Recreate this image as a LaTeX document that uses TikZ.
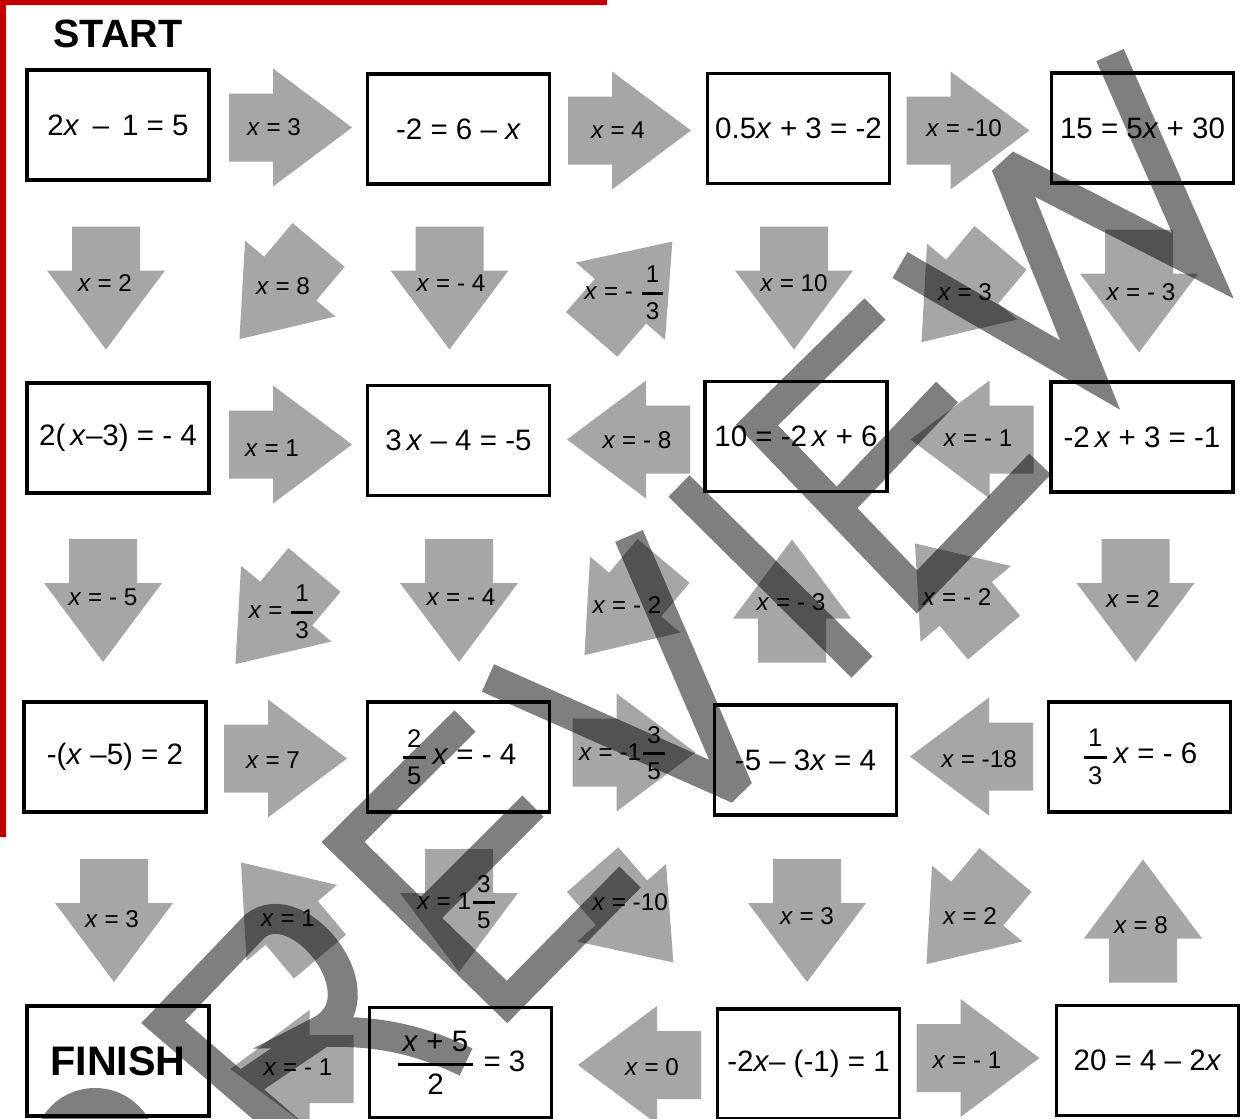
\documentclass[tikz,border=0pt]{standalone}
\usepackage{amsmath}
\usepackage{fontspec}
\setmainfont{Liberation Sans}
\definecolor{arrowgray}{RGB}{166,166,166}
\definecolor{edgered}{RGB}{192,0,0}
\newcommand{\xx}{\textit{x}}
\newcommand{\barfrac}[2]{$\genfrac{}{}{1.5pt}{0}{\text{\,#1\,}}{\text{\,#2\,}}$}
\tikzset{
  eqbox/.style  ={rectangle, draw=black, line width=2.2pt, fill=white,
                  minimum width=3.64cm, minimum height=2.2cm, inner sep=0pt,
                  font=\fontsize{16.8}{19}\selectfont},
  lbl/.style    ={inner sep=0pt, font=\fontsize{13.8}{16}\selectfont},
  headtxt/.style={inner sep=0pt, font=\fontsize{22.5}{26}\selectfont\bfseries},
  wm/.style     ={line width=0.6cm, draw=black},
  pics/garrow/.style={code={
    \fill[arrowgray] (-61.5,-34) -- (-17.5,-34) -- (-17.5,-59) -- (61.5,0)
      -- (-17.5,59) -- (-17.5,34) -- (-61.5,34) -- cycle;
  }},
}
\begin{document}
\begin{tikzpicture}[x=0.02cm, y=-0.02cm]
\useasboundingbox (0,0) rectangle (1248,1119);
\fill[white] (0,0) rectangle (1248,1119);
\fill[edgered] (0,0) rectangle (607,5);
\fill[edgered] (0,0) rectangle (6,837);

\node[headtxt] (start) at (118,34) {START};

% equation boxes
\node[eqbox] (eq11) at (118,125) {2\xx{} \,--\, 1 = 5};
\node[eqbox] (eq12) at (458.5,129) {-2 = 6 -- \xx};
\node[eqbox] (eq13) at (798.5,128.5) {0.5\xx{} + 3 = -2};
\node[eqbox] (eq14) at (1142.5,128) {15 = 5\xx{} + 30};
\node[eqbox] (eq21) at (118,438) {2(\,\xx--3) = - 4};
\node[eqbox] (eq22) at (458.5,440.5) {3\,\xx{} -- 4 = -5};
\node[eqbox] (eq23) at (796,436.5) {10 = -2\,\xx{} + 6};
\node[eqbox] (eq24) at (1142,437) {-2\,\xx{} + 3 = -1};
\node[eqbox] (eq31) at (115,757) {-(\xx{} --5) = 2};
\node[eqbox] (eq32) at (458.5,757) {{\fontsize{14.5}{16}\selectfont\barfrac{2}{5}}\,\xx{} = - 4};
\node[eqbox] (eq33) at (805.5,760) {-5 -- 3\xx{} = 4};
\node[eqbox] (eq34) at (1139.5,757) {{\fontsize{14.5}{16}\selectfont\barfrac{1}{3}}\,\xx{} = - 6};
\node[eqbox, font=\fontsize{23.5}{27}\selectfont\bfseries] (eq41) at (118,1061) {FINISH};
\node[eqbox] (eq42) at (460.5,1062.5) {\barfrac{\xx{} + 5}{2} = 3};
\node[eqbox] (eq43) at (808.5,1064) {-2\xx-- (-1) = 1};
\node[eqbox] (eq44) at (1147.5,1060.5) {20 = 4 -- 2\xx};

% gray arrows
\pic[rotate=0] at (290.5,127.5) {garrow};
\pic[rotate=0] at (629.5,130.5) {garrow};
\pic[rotate=0] at (968,130.5) {garrow};
\pic[rotate=-90] at (106,288) {garrow};
\pic[rotate=-130] at (279,292) {garrow};
\pic[rotate=-90] at (449.5,288) {garrow};
\pic[rotate=49] at (632,288) {garrow};
\pic[rotate=-90] at (794,288) {garrow};
\pic[rotate=-130] at (961,295) {garrow};
\pic[rotate=-90] at (1139,291) {garrow};
\pic[rotate=0] at (290.5,444.5) {garrow};
\pic[rotate=180] at (628.5,439.5) {garrow};
\pic[rotate=180] at (972,439.5) {garrow};
\pic[rotate=-90] at (103,600.5) {garrow};
\pic[rotate=-130] at (275,617) {garrow};
\pic[rotate=-90] at (459,600.5) {garrow};
\pic[rotate=-130] at (624,608) {garrow};
\pic[rotate=90] at (792,601) {garrow};
\pic[rotate=130] at (954.5,590.5) {garrow};
\pic[rotate=-90] at (1135.5,600.5) {garrow};
\pic[rotate=0] at (285.5,758.5) {garrow};
\pic[rotate=0] at (634,752.5) {garrow};
\pic[rotate=180] at (971.5,756.5) {garrow};
\pic[rotate=-90] at (114,920.5) {garrow};
\pic[rotate=130] at (280.5,909.5) {garrow};
\pic[rotate=-90] at (459,910.5) {garrow};
\pic[rotate=-49] at (633,916) {garrow};
\pic[rotate=-90] at (807,920.5) {garrow};
\pic[rotate=-130] at (966,917) {garrow};
\pic[rotate=90] at (1143,921) {garrow};
\pic[rotate=180] at (292,1069) {garrow};
\pic[rotate=180] at (639.5,1065) {garrow};
\pic[rotate=0] at (978,1058) {garrow};

% arrow labels
\node[lbl] (la1) at (274,127) {\xx{} = 3};
\node[lbl] (la2) at (618,130) {\xx{} = 4};
\node[lbl] (la3) at (964,128) {\xx{} = -10};
\node[lbl] (lb1) at (105,283) {\xx{} = 2};
\node[lbl] (lb2) at (283,286) {\xx{} = 8};
\node[lbl] (lb3) at (451,283) {\xx{} = - 4};
\node[lbl] (lb4) at (625,293) {\xx{} = - \barfrac{1}{3}};
\node[lbl] (lb5) at (794,283) {\xx{} = 10};
\node[lbl] (lb6) at (965,292) {\xx{} = 3};
\node[lbl] (lb7) at (1141,292) {\xx{} = - 3};
\node[lbl] (lc1) at (272,448) {\xx{} = 1};
\node[lbl] (lc2) at (637,440) {\xx{} = - 8};
\node[lbl] (lc3) at (978,438) {\xx{} = - 1};
\node[lbl] (ld1) at (103,597) {\xx{} = - 5};
\node[lbl] (ld2) at (282,612) {\xx{} = \barfrac{1}{3}};
\node[lbl] (ld3) at (461,597) {\xx{} = - 4};
\node[lbl] (ld4) at (627,605) {\xx{} = - 2};
\node[lbl] (ld5) at (791,602) {\xx{} = - 3};
\node[lbl] (ld6) at (957,597) {\xx{} = - 2};
\node[lbl] (ld7) at (1133,599) {\xx{} = 2};
\node[lbl] (le1) at (273,760) {\xx{} = 7};
\node[lbl] (le2) at (623,753) {\xx{} = -1\barfrac{3}{5}};
\node[lbl] (le3) at (979,759) {\xx{} = -18};
\node[lbl] (lf1) at (112,919) {\xx{} = 3};
\node[lbl] (lf2) at (288,918) {\xx{} = 1};
\node[lbl] (lf3) at (457,902) {\xx{} = 1\barfrac{3}{5}};
\node[lbl] (lf4) at (630,902) {\xx{} = -10};
\node[lbl] (lf5) at (807,916) {\xx{} = 3};
\node[lbl] (lf6) at (970,916) {\xx{} = 2};
\node[lbl] (lf7) at (1141,925) {\xx{} = 8};
\node[lbl] (lg1) at (298,1067) {\xx{} = - 1};
\node[lbl] (lg2) at (652,1067) {\xx{} = 0};
\node[lbl] (lg3) at (967,1060) {\xx{} = - 1};

% REVIEW watermark
\begin{scope}[transparency group, opacity=0.5]
  \fill[black] (95,1150) circle (62);
  \draw[wm] (300,1140) -- (163,1022) -- (255,926)
    .. controls (300,890) and (385,1000) .. (318,1032)
    .. controls (380,1030) and (420,1040) .. (466,1062);
  \draw[wm] (325,1030) -- (232,1093);
  \draw[wm] (465,721) -- (343,842) -- (507,1002) -- (630,877);
  \draw[wm] (420,919) -- (533,806);
  \draw[wm, line join=bevel] (488,678) -- (738,789) -- (629,536);
  \draw[wm] (679,486) -- (862,667);
  \draw[wm] (875,309) -- (757,425) -- (917,592) -- (1040,464);
  \draw[wm] (837,508) -- (947,392);
  \draw[wm] (900,265) -- (1090,375) -- (1006,165);
  \draw[wm] (1006,165) -- (1203,266) -- (1110,55);
  \draw[wm, line join=bevel] (1048,270) -- (1006,165) -- (1100,213);
\end{scope}
\end{tikzpicture}
\end{document}
